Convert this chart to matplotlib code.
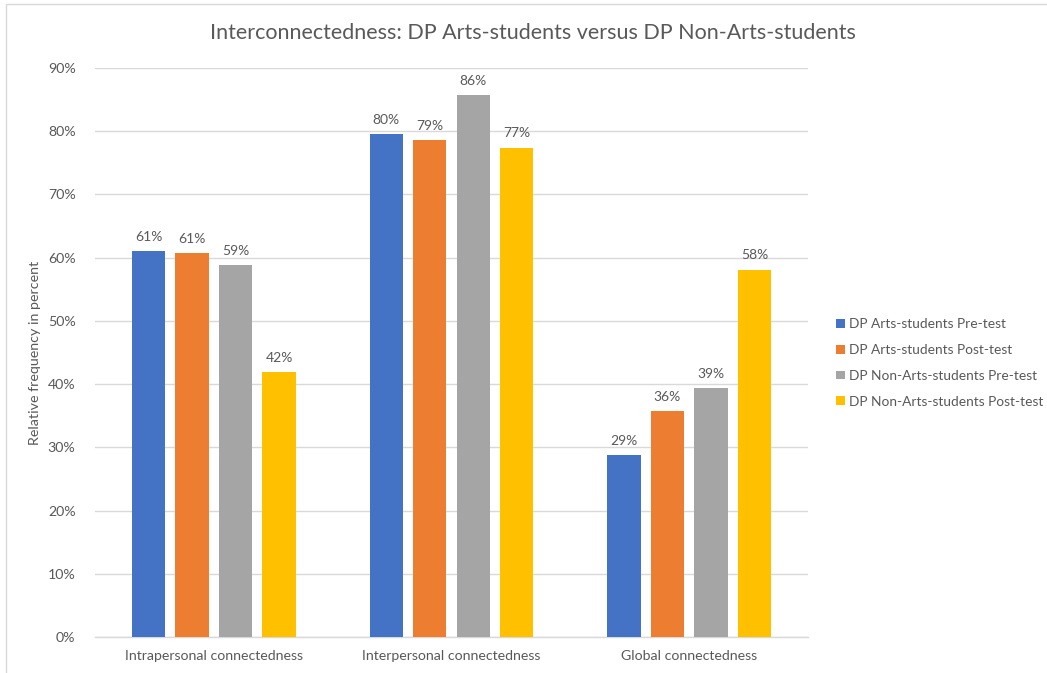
import numpy as np
import matplotlib.pyplot as plt
from matplotlib.patches import Rectangle

plt.rcParams['font.family'] = ['Lato', 'DejaVu Sans']

categories = ['Intrapersonal connectedness', 'Interpersonal connectedness', 'Global connectedness']
series_names = ['DP Arts-students Pre-test', 'DP Arts-students Post-test',
                'DP Non-Arts-students Pre-test', 'DP Non-Arts-students Post-test']
arts_pre = [61.0, 79.6, 28.8]
arts_post = [60.7, 78.6, 35.7]
nonarts_pre = [58.8, 85.7, 39.4]
nonarts_post = [41.9, 77.4, 58.1]
colors = ['#4472C4', '#ED7D31', '#A5A5A5', '#FFC000']

text_col = '#595959'
grid_col = '#D9D9D9'

fig = plt.figure(figsize=(10.47, 6.73), dpi=100)
# chart border
fig.patches.append(Rectangle((6 / 1047, -0.01), 1.1, 1 - 4 / 673 + 0.01, transform=fig.transFigure,
                             fill=False, edgecolor='#D9D9D9', linewidth=1.0))

ax = fig.add_axes([95 / 1047, 1 - 637 / 673, (808 - 95) / 1047, (637 - 68) / 673])

x = np.arange(len(categories))
width = 0.14
step = 0.183
all_series = [arts_pre, arts_post, nonarts_pre, nonarts_post]
for i, (vals, name, c) in enumerate(zip(all_series, series_names, colors)):
    pos = x + (i - 1.5) * step
    bars = ax.bar(pos, vals, width, color=c, label=name, zorder=3)
    for b, v in zip(bars, vals):
        ax.text(b.get_x() + b.get_width() / 2, v + 1.3, f'{v:.0f}%', ha='center', va='bottom',
                fontsize=10, color=text_col)

ax.set_xlim(-0.5, 2.5)
ax.set_ylim(0, 90)
ax.set_yticks(np.arange(0, 91, 10))
ax.set_yticklabels([f'{t}%' for t in range(0, 91, 10)])
ax.set_xticks(x)
ax.set_xticklabels(categories)
ax.tick_params(axis='both', length=0, labelsize=10.2, labelcolor=text_col)
ax.tick_params(axis='y', pad=14)
ax.tick_params(axis='x', pad=9)
ax.grid(axis='y', color=grid_col, linewidth=1.0, zorder=0)
for s in ['top', 'right', 'left']:
    ax.spines[s].set_visible(False)
ax.spines['bottom'].set_color(grid_col)
ax.spines['bottom'].set_linewidth(1.0)

ax.set_ylabel('Relative frequency in percent', fontsize=10.3, color=text_col, labelpad=5)
fig.text(533 / 1047, 1 - 33 / 673, 'Interconnectedness: DP Arts-students versus DP Non-Arts-students',
         ha='center', va='center', fontsize=15.5, color=text_col)

ax.legend(loc='center left', bbox_to_anchor=(824 / 1047, 1 - 363 / 673), bbox_transform=fig.transFigure,
          frameon=False, fontsize=9.9, labelcolor=text_col, handlelength=0.6, handleheight=0.6,
          handletextpad=0.35, labelspacing=1.0)

fig.savefig('out.png', dpi=100)
